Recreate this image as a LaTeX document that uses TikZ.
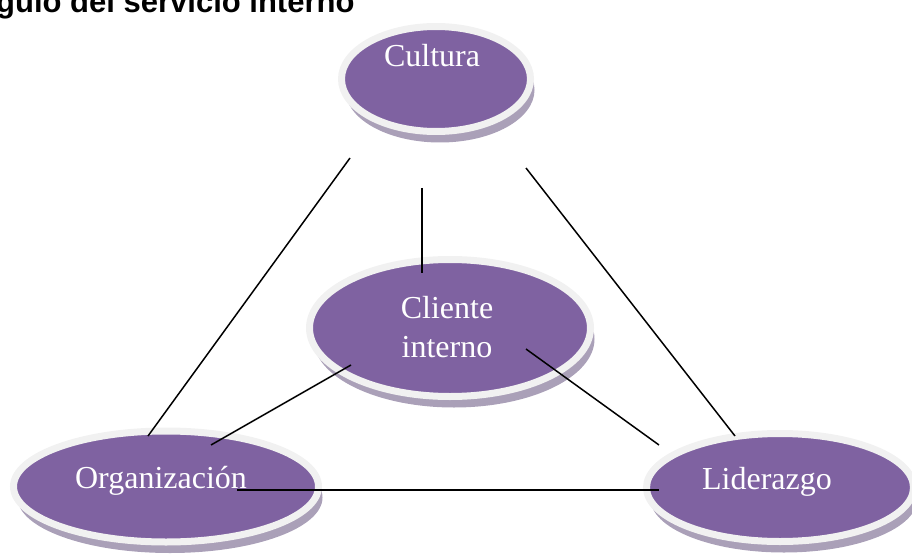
\documentclass[tikz,border=0pt]{standalone}
\usepackage{fontspec}
\setmainfont{Liberation Serif}
\newfontfamily\titlefont{Liberation Sans}
\usetikzlibrary{shapes.geometric,shadows}
\definecolor{mypurp}{RGB}{127,98,161}
\definecolor{myrim}{RGB}{241,241,241}
\definecolor{myshad}{RGB}{170,160,184}
\tikzstyle{factor} = [ellipse, inner sep=0pt, fill=mypurp, draw=myrim, line width=7pt, drop shadow={shadow xshift=4pt, shadow yshift=-11pt, fill=myshad, opacity=1}]
\tikzstyle{rotulo} = [text=white, font=\fontsize{32}{39}\selectfont, align=center, inner sep=0pt]
\tikzstyle{titulo} = [font=\titlefont\bfseries\fontsize{31}{37}\selectfont, inner sep=0pt, anchor=base west]
\tikzstyle{enlace} = [line width=1.5pt, black]

\begin{document}
\begin{tikzpicture}[x=1pt,y=-1pt]
	\useasboundingbox (0,0) rectangle (912,556);
	\node (titulo)[titulo] at (-4,13) {gulo del servicio interno};
	\node (cultura)[factor, minimum width=189pt, minimum height=105pt] at (436,79) {};
	\node (cliente)[factor, minimum width=281pt, minimum height=137pt] at (450,328) {};
	\node (organizacion)[factor, minimum width=305pt, minimum height=111pt] at (166,486.5) {};
	\node (liderazgo)[factor, minimum width=267pt, minimum height=108pt] at (780,487.5) {};
	\node (tcultura)[rotulo, anchor=base] at (432,67) {Cultura};
	\node (tcliente)[rotulo] at (447,327) {Cliente\\interno};
	\node (torganizacion)[rotulo, anchor=base] at (161,488) {Organización};
	\node (tliderazgo)[rotulo, anchor=base] at (767,489) {Liderazgo};
	% extremos de las lineas
	\coordinate (cultura-sw) at (350,158);
	\coordinate (cultura-s) at (422,188);
	\coordinate (cultura-se) at (526,168);
	\coordinate (cliente-n) at (422,273);
	\coordinate (cliente-sw) at (351,365);
	\coordinate (cliente-se) at (526,349);
	\coordinate (organizacion-n) at (148,436);
	\coordinate (organizacion-ne) at (211,445);
	\coordinate (organizacion-e) at (237,490);
	\coordinate (liderazgo-n) at (735,436);
	\coordinate (liderazgo-nw) at (659,445);
	\coordinate (liderazgo-w) at (659,490);
	\draw [enlace] (cultura-sw) -- (organizacion-n);
	\draw [enlace] (cultura-s) -- (cliente-n);
	\draw [enlace] (cultura-se) -- (liderazgo-n);
	\draw [enlace] (cliente-sw) -- (organizacion-ne);
	\draw [enlace] (cliente-se) -- (liderazgo-nw);
	\draw [enlace] (organizacion-e) -- (liderazgo-w);
\end{tikzpicture}
\end{document}
